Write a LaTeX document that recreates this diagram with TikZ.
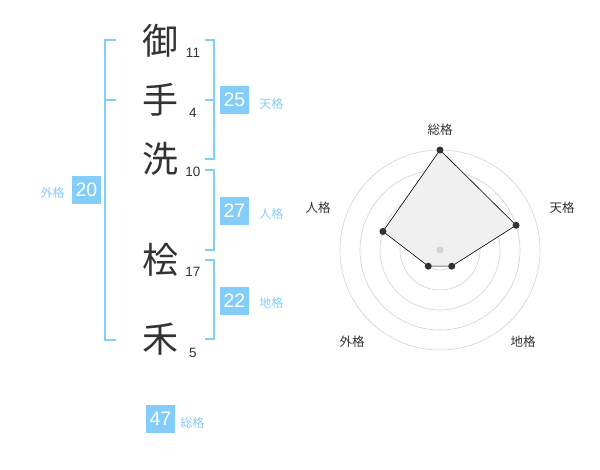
\documentclass[tikz,border=0pt]{standalone}
\usepackage{fontspec}
\setmainfont{Liberation Sans}
\newfontfamily\jpfont{Noto Sans CJK JP}
\usetikzlibrary{positioning}
\definecolor{kakublue}{RGB}{132,204,250}
\definecolor{inkgray}{RGB}{51,51,51}

\begin{document}
\begin{tikzpicture}[x=1pt,y=-1pt]
			\tikzstyle{kanji}=[font=\jpfont\fontsize{36}{36}\selectfont,text=inkgray,inner sep=0pt]
			\tikzstyle{kakusu}=[font=\fontsize{13.5}{13.5}\selectfont,text=inkgray,inner sep=0pt]
			\tikzstyle{kakubox}=[fill=kakublue,text=white,font=\fontsize{19.5}{19.5}\selectfont,minimum width=29pt,minimum height=28pt,inner sep=0pt]
			\tikzstyle{kakuname}=[font=\jpfont\fontsize{12}{12}\selectfont,text=kakublue,inner sep=0pt]
			\tikzstyle{bracket}=[draw=kakublue,line width=2pt]
			\tikzstyle{axisname}=[font=\jpfont\fontsize{12.5}{12.5}\selectfont,text=inkgray,inner sep=0pt]
			\useasboundingbox (0,0) rectangle (600,470);
			
			% name characters and stroke counts
			\node[kanji] (c1) at (160,41) {御};
			\node[kanji] (c2) at (160,100) {手};
			\node[kanji] (c3) at (160,159) {洗};
			\node[kanji] (c4) at (160,260) {桧};
			\node[kanji] (c5) at (160,339) {禾};
			\node[kakusu] (s1) at (193,53) {11};
			\node[kakusu] (s2) at (193,113) {4};
			\node[kakusu] (s3) at (193,172) {10};
			\node[kakusu] (s4) at (193,272) {17};
			\node[kakusu] (s5) at (193,353) {5};
			
			% brackets
			\coordinate (gt) at (105,40); \coordinate (gm) at (105,100); \coordinate (gb) at (105,340);
			\draw[bracket] ([xshift=11pt]gt) -- (gt) -- (gb) -- ([xshift=11pt]gb);
			\draw[bracket] (gm) -- ([xshift=11pt]gm);
			\coordinate (tt) at (214,40); \coordinate (tm) at (214,100); \coordinate (tb) at (214,159);
			\draw[bracket] ([xshift=-9pt]tt) -- (tt) -- (tb) -- ([xshift=-9pt]tb);
			\draw[bracket] (tm) -- ([xshift=-9pt]tm);
			\coordinate (jt) at (214,170); \coordinate (jb) at (214,250);
			\draw[bracket] ([xshift=-9pt]jt) -- (jt) -- (jb) -- ([xshift=-9pt]jb);
			\coordinate (ct) at (214,260); \coordinate (cb) at (214,339);
			\draw[bracket] ([xshift=-9pt]ct) -- (ct) -- (cb) -- ([xshift=-9pt]cb);
			
			% kaku boxes
			\node[kakubox] (ten) at (234.5,100) {25};
			\node[kakuname,right=10pt of ten,yshift=-4pt] (tenl) {天格};
			\node[kakubox] (jin) at (234.5,211) {27};
			\node[kakuname,right=10pt of jin,yshift=-3pt] (jinl) {人格};
			\node[kakubox] (chi) at (234.5,301) {22};
			\node[kakuname,right=10pt of chi,yshift=-2pt] (chil) {地格};
			\node[kakubox] (gai) at (86.5,190) {20};
			\node[kakuname,left=7pt of gai,yshift=-3pt] (gail) {外格};
			\node[kakubox] (sou) at (160.5,419) {47};
			\node[kakuname,right=5pt of sou,yshift=-4pt] (soul) {総格};
			
			% radar chart
			\begin{scope}[shift={(440,250)},yscale=-1]
				\foreach \r in {20,40,...,100}
					\draw[gray!35,line width=0.6pt] (0,0) circle (\r);
				\coordinate (rs) at (90:100);
				\coordinate (rt) at (18:80);
				\coordinate (rc) at (-54:20);
				\coordinate (rg) at (234:20);
				\coordinate (rj) at (162:60);
				\draw[fill=gray!12,draw=black,line width=0.6pt] (rs) -- (rt) -- (rc) -- (rg) -- (rj) -- cycle;
				\foreach \p in {rs,rt,rc,rg,rj}
					\fill[inkgray] (\p) circle (3.5);
				\fill[gray!35] (0,0) circle (3.5);
			\end{scope}
			\node[axisname] (as) at (440,130) {総格};
			\node[axisname] (at) at (562,208) {天格};
			\node[axisname] (ac) at (523,342) {地格};
			\node[axisname] (ag) at (352,342) {外格};
			\node[axisname] (aj) at (318,208) {人格};
\end{tikzpicture}
\end{document}
